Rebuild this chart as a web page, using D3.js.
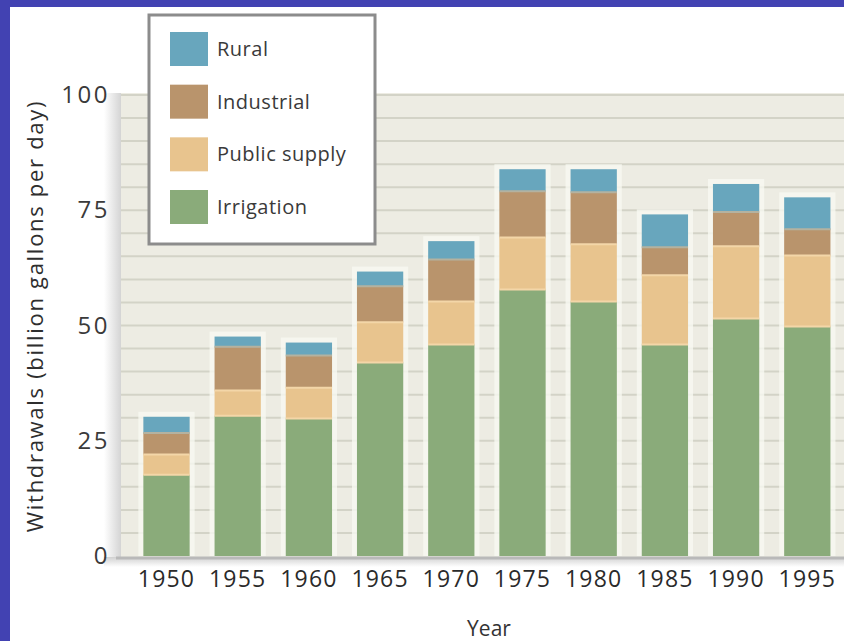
<!DOCTYPE html>
<html>
<head>
<meta charset="utf-8">
<script src="https://cdn.jsdelivr.net/npm/d3@7/dist/d3.min.js"></script>
<style>
  html, body { margin: 0; padding: 0; background: #4444b4; }
  svg { display: block; }
</style>
</head>
<body>
<svg id="chart" width="844" height="641"></svg>
<script>
// ---- data ----
const years = ["1950", "1955", "1960", "1965", "1970", "1975", "1980", "1985", "1990", "1995"];
const seriesNames = ["Irrigation", "Public supply", "Industrial", "Rural"];
const irrigation   = [17.6, 30.4, 29.8, 42.0, 45.9, 57.8, 55.2, 45.9, 51.5, 49.8];
const publicSupply = [4.4, 5.5, 6.7, 8.7, 9.3, 11.3, 12.4, 15.0, 15.7, 15.4];
const industrial   = [4.7, 9.5, 7.0, 7.8, 9.1, 10.0, 11.3, 6.1, 7.4, 5.7];
const rural        = [3.5, 2.2, 2.8, 3.2, 4.0, 4.8, 5.0, 7.1, 6.1, 6.9];
const yTicks = [0, 25, 50, 75, 100];
const legendOrder = ["Rural", "Industrial", "Public supply", "Irrigation"];
const yTitle = "Withdrawals (billion gallons per day)";
const xTitle = "Year";

const colors = {
  "Irrigation": "#8aab7a",
  "Public supply": "#e8c48e",
  "Industrial": "#b9946c",
  "Rural": "#68a6bd"
};

const rows = years.map((y, i) => ({
  year: y,
  "Irrigation": irrigation[i],
  "Public supply": publicSupply[i],
  "Industrial": industrial[i],
  "Rural": rural[i]
}));

const svg = d3.select("#chart");
const W = 844, H = 641;

// blue frame + white panel
svg.append("rect").attr("x", 0).attr("y", 0).attr("width", W).attr("height", H).attr("fill", "#4242b2");
svg.append("rect").attr("x", 10).attr("y", 7).attr("width", W - 10).attr("height", H - 7).attr("fill", "#ffffff");

const plotLeft = 121, plotRight = 844, plotTop = 93, plotBottom = 557;

const x = d3.scaleBand().domain(years).range([130.9, 842.9]).paddingInner(0.35).paddingOuter(0.175);
const y = d3.scaleLinear().domain([0, 100]).range([556, 95]);

const defs = svg.append("defs");
const lg = defs.append("linearGradient").attr("id", "leftShade").attr("x1", "0").attr("x2", "1").attr("y1", "0").attr("y2", "0");
lg.append("stop").attr("offset", "0").attr("stop-color", "#ffffff");
lg.append("stop").attr("offset", "1").attr("stop-color", "#d4d4d4");
const bg = defs.append("linearGradient").attr("id", "bottomShade").attr("x1", "0").attr("x2", "0").attr("y1", "0").attr("y2", "1");
bg.append("stop").attr("offset", "0").attr("stop-color", "#d0d0d0");
bg.append("stop").attr("offset", "1").attr("stop-color", "#ffffff");

// plot background
svg.append("rect").attr("x", plotLeft).attr("y", plotTop)
  .attr("width", plotRight - plotLeft).attr("height", plotBottom - plotTop)
  .attr("fill", "#edece3");

// left edge shade
svg.append("rect").attr("x", 104).attr("y", plotTop).attr("width", plotLeft - 104).attr("height", plotBottom - plotTop + 4)
  .attr("fill", "url(#leftShade)");
// bottom shade
svg.append("rect").attr("x", 104).attr("y", plotBottom).attr("width", plotRight - 104).attr("height", 10)
  .attr("fill", "url(#bottomShade)");

// gridlines every 5
const gridVals = d3.range(5, 101, 5);
svg.append("g").selectAll("line").data(gridVals).join("line")
  .attr("x1", plotLeft).attr("x2", plotRight)
  .attr("y1", d => y(d)).attr("y2", d => y(d))
  .attr("stroke", "#d3d3c7").attr("stroke-width", 2);

// bar halos
svg.append("g").selectAll("rect").data(rows).join("rect")
  .attr("x", d => x(d.year) - 5)
  .attr("width", x.bandwidth() + 10)
  .attr("y", d => y(d["Irrigation"] + d["Public supply"] + d["Industrial"] + d["Rural"]) - 5)
  .attr("height", d => y(0) - y(d["Irrigation"] + d["Public supply"] + d["Industrial"] + d["Rural"]) + 5)
  .attr("fill", "#f8f9f1").attr("opacity", 0.8);

// stacked bars
const stack = d3.stack().keys(seriesNames);
const stacked = stack(rows);
const layers = svg.append("g").selectAll("g").data(stacked).join("g")
  .attr("fill", d => colors[d.key]);
layers.selectAll("rect").data(d => d).join("rect")
  .attr("x", d => x(d.data.year))
  .attr("width", x.bandwidth())
  .attr("y", d => y(d[1]))
  .attr("height", d => y(d[0]) - y(d[1]));

// segment separators
const seps = [];
stacked.forEach((layer, li) => {
  if (li === 0) return;
  layer.forEach(d => seps.push({ year: d.data.year, v: d[0], key: layer.key }));
});
svg.append("g").selectAll("line").data(seps).join("line")
  .attr("x1", d => x(d.year)).attr("x2", d => x(d.year) + x.bandwidth())
  .attr("y1", d => y(d.v)).attr("y2", d => y(d.v))
  .attr("stroke", d => d.key === "Rural" ? "#b4b2a0" : "#f3d6a8")
  .attr("stroke-width", 2);

// baseline
svg.append("line").attr("x1", 116).attr("x2", plotRight).attr("y1", plotBottom + 1).attr("y2", plotBottom + 1)
  .attr("stroke", "#b9b9b9").attr("stroke-width", 3);

// y axis labels
const yAxis = d3.axisLeft(y).tickValues(yTicks).tickSize(0).tickPadding(0);
const yg = svg.append("g").attr("transform", "translate(110,0)").call(yAxis);
yg.select(".domain").remove();
yg.selectAll("text")
  .attr("font-family", "'Open Sans', sans-serif").attr("font-size", 24)
  .attr("letter-spacing", 2.5).attr("fill", "#3a3a3a");

// x axis labels
const xAxis = d3.axisBottom(x).tickSize(0).tickPadding(0);
const xg = svg.append("g").attr("transform", "translate(0,571)").call(xAxis);
xg.select(".domain").remove();
xg.selectAll("text")
  .attr("font-family", "'Open Sans', sans-serif").attr("font-size", 23)
  .attr("letter-spacing", 1.2).attr("fill", "#2a2a2a");

// axis titles
svg.append("text").attr("transform", "translate(43,316) rotate(-90)")
  .attr("text-anchor", "middle")
  .attr("font-family", "'Open Sans', sans-serif").attr("font-size", 22)
  .attr("letter-spacing", 1.7).attr("fill", "#2e2e2e").text(yTitle);
svg.append("text").attr("x", 489).attr("y", 636).attr("text-anchor", "middle")
  .attr("font-family", "'Open Sans', sans-serif").attr("font-size", 21)
  .attr("fill", "#333").text(xTitle);

// legend
const legend = svg.append("g");
legend.append("rect").attr("x", 149).attr("y", 15).attr("width", 226).attr("height", 229)
  .attr("fill", "#ffffff").attr("stroke", "#8c8c8c").attr("stroke-width", 3);
const ly = d3.scalePoint().domain(legendOrder).range([49, 207]);
const items = legend.selectAll("g.item").data(legendOrder).join("g").attr("class", "item")
  .attr("transform", d => `translate(0,${ly(d)})`);
items.append("rect").attr("x", 170).attr("y", -17).attr("width", 38).attr("height", 34)
  .attr("fill", d => colors[d]);
items.append("text").attr("x", 217).attr("y", 0).attr("dy", "0.35em")
  .attr("font-family", "'Open Sans', sans-serif").attr("font-size", 20)
  .attr("letter-spacing", 0.5).attr("fill", "#3a3a3a").text(d => d);
</script>
</body>
</html>
